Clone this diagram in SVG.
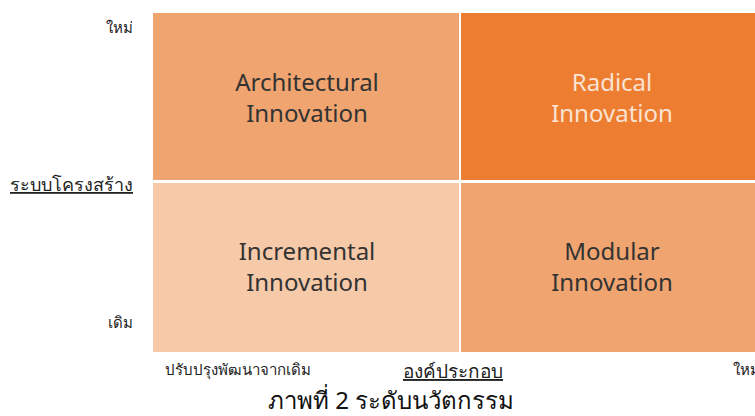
<svg xmlns="http://www.w3.org/2000/svg" width="755" height="416" viewBox="0 0 755 416">
<style>
text{font-family:"Noto Sans","Liberation Sans",sans-serif;}
.cell{font-size:24px;fill:#333333;text-anchor:middle;}
.cellw{font-size:24px;fill:#FBE3D3;text-anchor:middle;}
.ax{font-size:15px;fill:#222222;}
.axu{font-size:18px;fill:#222222;text-decoration:underline;}
</style>
<rect width="755" height="416" fill="#ffffff"/>
<g id="architectural">
<rect x="153" y="13" width="306" height="167" fill="#F0A470"/>
<text class="cell" x="307" y="91">Architectural</text>
<text class="cell" x="307" y="122">Innovation</text>
</g>
<g id="radical">
<rect x="461" y="13" width="294" height="167" fill="#ED7D31"/>
<text class="cellw" x="612" y="91">Radical</text>
<text class="cellw" x="612" y="122">Innovation</text>
</g>
<g id="incremental">
<rect x="153" y="183" width="306" height="169" fill="#F6CAA9"/>
<text class="cell" x="307" y="260">Incremental</text>
<text class="cell" x="307" y="291">Innovation</text>
</g>
<g id="modular">
<rect x="461" y="183" width="294" height="169" fill="#F0A470"/>
<text class="cell" x="612" y="260">Modular</text>
<text class="cell" x="612" y="291">Innovation</text>
</g>
<g id="connectors"></g>
<g id="labels">
<text class="ax" x="133" y="33" text-anchor="end">ใหม่</text>
<text class="axu" x="133" y="191" text-anchor="end">ระบบโครงสร้าง</text>
<text class="ax" x="133" y="328" text-anchor="end">เดิม</text>
<text class="ax" x="165" y="375">ปรับปรุงพัฒนาจากเดิม</text>
<text class="axu" x="453" y="378" text-anchor="middle" style="font-size:19px">องค์ประกอบ</text>
<text class="ax" x="733" y="375">ใหม่</text>
<text x="391" y="409" text-anchor="middle" style="font-size:24px;fill:#111111">ภาพที่ 2 ระดับนวัตกรรม</text>
</g>
</svg>
